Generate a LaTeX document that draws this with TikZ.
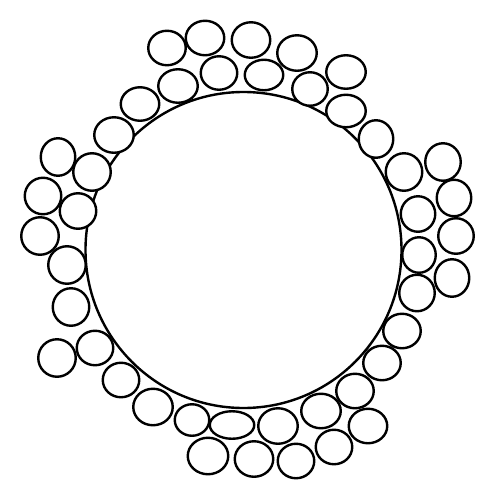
\documentclass[tikz,border=0pt]{standalone}
\usetikzlibrary{shapes.geometric}
\begin{document}
\begin{tikzpicture}[x=0.75pt,y=-0.75pt,
  ball/.style={draw, fill=white, ellipse, line width=1.8pt, inner sep=0pt},
  core/.style={draw, circle, line width=1.8pt, inner sep=0pt, minimum size=237pt}]
\useasboundingbox (0,0) rectangle (494,500);
\node[core] (big) at (243.5,250) {};
\foreach \x/\y/\w/\h [count=\i] in {
167/48/40/37, 205/38/41/37, 251/40/41/38, 297/53/42/38, 346/72/42/36,
178/86/42/36, 219/73/39/36, 264/75/41/33, 310/89/38/36, 346/111/42/35,
140/104/41/36, 114/135/42/38, 376/139/37/40,
58/157/37/40, 92/172/40/40, 43/196/39/39, 78/211/39/38, 40/236/40/40,
67/265/40/40, 71/307/39/40, 95/348/39/37, 57/358/40/40, 121/380/39/37,
153/407/42/39, 192/420/37/34, 232/425/47/30, 208/456/43/39, 254/459/41/38,
296/461/39/37, 278/426/42/38, 321/411/42/37, 334/447/39/37, 368/426/41/37,
355/391/40/37, 382/363/40/37, 402/331/40/37, 417/293/38/39, 452/278/37/40,
419/255/36/38, 456/236/38/38, 454/198/37/39, 418/214/37/38, 443/162/38/40,
404/172/39/40}
  \node[ball, minimum width={(\w-2.5)*0.75pt}, minimum height={(\h-2.5)*0.75pt}] (b\i) at (\x,\y) {};
\end{tikzpicture}
\end{document}
